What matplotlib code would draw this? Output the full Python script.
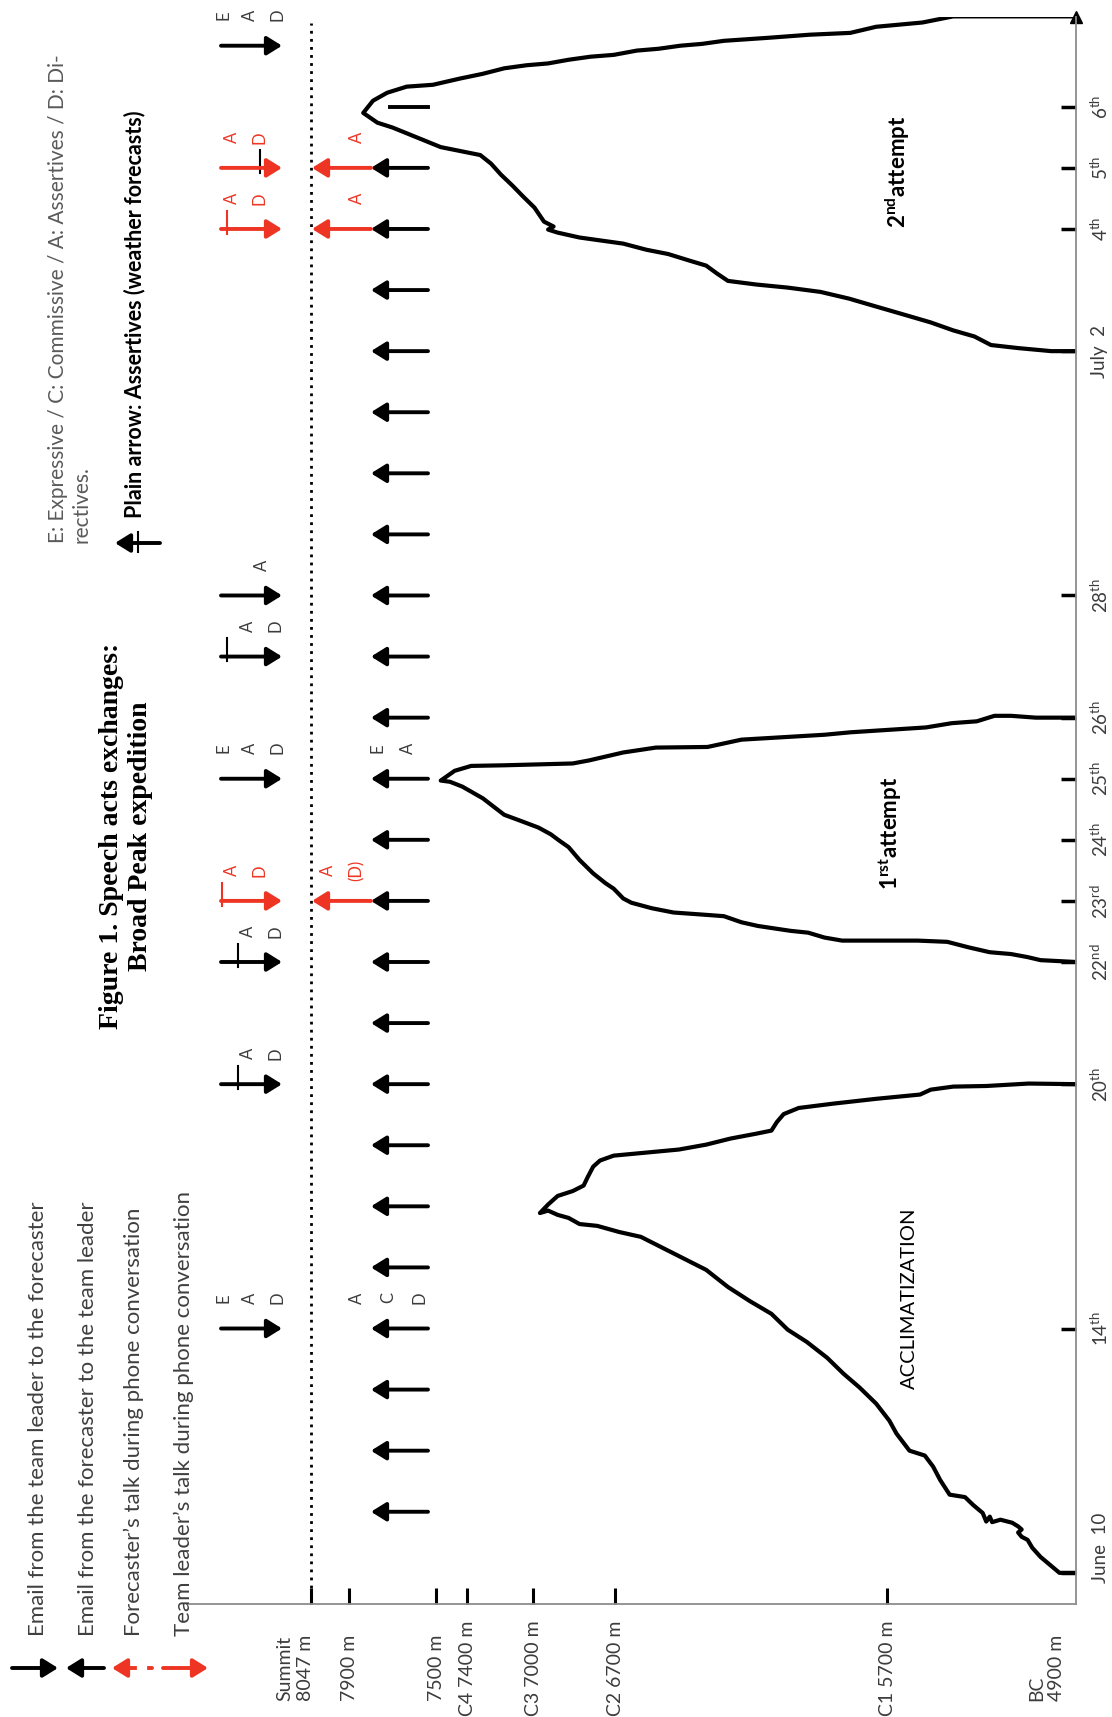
import numpy as np
import matplotlib
matplotlib.use('Agg')
import matplotlib.pyplot as plt
from matplotlib.ticker import NullLocator
from matplotlib.transforms import blended_transform_factory, offset_copy

plt.rcParams['font.family'] = ['Lato', 'DejaVu Sans']
plt.rcParams['mathtext.fontset'] = 'custom'
plt.rcParams['mathtext.rm'] = 'Lato'
plt.rcParams['mathtext.bf'] = 'Lato:bold'

# --- data -----------------------------------------------------------------
# altitude axis (m)
ALT_TICKS = [8047, 7900, 7500, 7400, 7000, 6700, 5700, 4900]
ALT_LABELS = ['Summit\n8047 m', '7900 m', '7500 m', 'C4 7400 m', 'C3 7000 m',
              'C2 6700 m', 'C1 5700 m', 'BC\n4900 m']

# time axis: day slots of the hand drawn axis (0 = June 10)
DAY_TICKS = [0, 4, 8, 10, 11, 12, 13, 14, 16, 20, 22, 23, 24]
DAY_LABELS = ['June  10', r'14$^{\mathrm{th}}$', r'20$^{\mathrm{th}}$', r'22$^{\mathrm{nd}}$',
              r'23$^{\mathrm{rd}}$', r'24$^{\mathrm{th}}$', r'25$^{\mathrm{th}}$', r'26$^{\mathrm{th}}$',
              r'28$^{\mathrm{th}}$', 'July  2', r'4$^{\mathrm{th}}$', r'5$^{\mathrm{th}}$', r'6$^{\mathrm{th}}$']

# acclimatization climb
ACCL_DAY = [0.00, 0.00, 0.13, 0.26, 0.41, 0.54, 0.59, 0.66, 0.71, 0.76, 0.82, 0.87, 0.83, 0.92,
            0.84, 0.98, 1.11, 1.24, 1.28, 1.52, 1.74, 1.92, 2.00, 2.28, 2.49, 2.77, 3.03, 3.26,
            3.52, 3.78, 3.98, 4.24, 4.45, 4.68, 4.96, 5.14, 5.32, 5.50, 5.58, 5.68, 5.71, 5.81,
            5.86, 5.93, 5.89, 6.03, 6.17, 6.25, 6.34, 6.48, 6.65, 6.75, 6.83, 6.88, 6.93, 7.01,
            7.11, 7.19, 7.24, 7.38, 7.51, 7.61, 7.68, 7.76, 7.83, 7.91, 7.96, 7.97, 8.01, 8.00]
ACCL_ALT = [4900, 4970, 5010, 5050, 5085, 5105, 5130, 5145, 5130, 5145, 5170, 5220, 5255, 5265,
            5280, 5295, 5335, 5370, 5435, 5475, 5505, 5540, 5605, 5660, 5690, 5740, 5800, 5860,
            5920, 5995, 6065, 6125, 6205, 6285, 6365, 6445, 6525, 6605, 6685, 6765, 6830, 6870,
            6910, 6945, 6975, 6945, 6910, 6855, 6815, 6800, 6780, 6755, 6705, 6585, 6465, 6365,
            6275, 6180, 6125, 6105, 6080, 6025, 5900, 5740, 5560, 5515, 5420, 5280, 5100, 4900]

# 1st summit attempt
ATT1_DAY = [10.00, 10.03, 10.08, 10.13, 10.16, 10.24, 10.33, 10.35, 10.35, 10.40, 10.48, 10.51,
            10.59, 10.65, 10.75, 10.77, 10.81, 10.88, 10.97, 11.04, 11.20, 11.29, 11.45, 11.67,
            11.88, 11.99, 12.09, 12.20, 12.31, 12.41, 12.68, 12.87, 12.95, 12.97, 13.13, 13.21,
            13.22, 13.25, 13.30, 13.43, 13.51, 13.52, 13.64, 13.72, 13.76, 13.84, 13.91, 13.94,
            14.03, 14.03, 14.00, 14.00]
ATT1_ALT = [4900, 5050, 5105, 5175, 5265, 5355, 5445, 5570, 5865, 5930, 5990, 6055,
            6175, 6235, 6300, 6360, 6485, 6565, 6640, 6670, 6705, 6735, 6780, 6830,
            6870, 6905, 6935, 6980, 7075, 7175, 7305, 7415, 7455, 7485, 7440, 7375,
            7175, 6855, 6795, 6670, 6550, 6360, 6235, 5930, 5835, 5535, 5425, 5320,
            5245, 5175, 5070, 4900]

# 2nd summit attempt
ATT2_DAY = [20.00, 20.00, 20.05, 20.10, 20.24, 20.34, 20.47, 20.60, 20.73, 20.86, 20.97, 21.04,
            21.09, 21.15, 21.27, 21.40, 21.48, 21.59, 21.66, 21.76, 21.81, 21.86, 21.94, 21.99,
            22.04, 22.12, 22.35, 22.53, 22.71, 22.89, 23.07, 23.21, 23.34, 23.66, 23.74, 23.90,
            24.10, 24.23, 24.33, 24.36, 24.46, 24.54, 24.63, 24.68, 24.71, 24.77, 24.82, 24.85,
            24.92, 24.95, 25.00, 25.03, 25.08, 25.13, 25.18, 25.21, 25.31, 25.38, 25.48, 25.48]
ATT2_ALT = [4900, 5005, 5145, 5260, 5330, 5420, 5515, 5630, 5740, 5840, 5945, 6065,
            6180, 6285, 6325, 6365, 6425, 6505, 6585, 6670, 6750, 6830, 6910, 6945,
            6925, 6960, 6995, 7060, 7125, 7195, 7255, 7320, 7485, 7700, 7770, 7835,
            7790, 7725, 7635, 7515, 7425, 7305, 7175, 7040, 6945, 6870, 6790, 6705,
            6620, 6540, 6460, 6380, 6300, 6135, 5985, 5835, 5740, 5550, 5420, 4900]

# emails / talk from the team leader (red = during phone conversation)
LEADER_DAYS = [4, 8, 10, 11, 13, 15, 16, 22, 23, 25]
LEADER_ACTS = [['E', 'A', 'D'], ['A', 'D'], ['A', 'D'], ['A', 'D'], ['E', 'A', 'D'],
               ['A', 'D'], ['A'], ['A', 'D'], ['A', 'D'], ['E', 'A', 'D']]
LEADER_PHONE = [False, False, False, True, False, False, False, True, True, False]

# emails from the forecaster (plain arrows)
FORECAST_DAYS = [1, 2, 3, 4, 5, 6, 7, 8, 9, 10, 11, 12, 13, 14, 15, 16, 17, 18, 19, 20, 21, 22, 23]
FORECAST_ACT_DAYS = [4, 13]
FORECAST_ACTS = [['A', 'C', 'D'], ['E', 'A']]

# forecaster talk during phone conversation
PHONE_DAYS = [11, 22, 23]
PHONE_ACTS = [['A', '(D)'], ['A'], ['A']]

# --- layout ---------------------------------------------------------------
W, H = 1112, 1717
AX_L, AX_R, AX_T, AX_B = 187, 1076, 17, 1604
RED = '#ee3524'
GREY = '#3c3c3c'

fig = plt.figure(figsize=(W / 100, H / 100), dpi=100)
ax = fig.add_axes([AX_L / W, 1 - AX_B / H, (AX_R - AX_L) / W, (AX_B - AX_T) / H])

# hand drawn altitude scale (piecewise linear)
SCALE_ALT = [4900, 5700, 6700, 7000, 7400, 7500, 7900, 8047, 8600]
SCALE_POS = [0, 189, 461, 543, 609, 640, 727, 765, 908]
ax.set_xscale('function', functions=(lambda a: np.interp(a, SCALE_ALT, SCALE_POS),
                                     lambda p: np.interp(p, SCALE_POS, SCALE_ALT)))
ax.set_xlim(8527, 4900)
ax.set_ylim(-0.51, 25.47)


def fx(px):
    # pixel column -> axes fraction
    return (px - AX_L) / (AX_R - AX_L)


bt = blended_transform_factory(ax.transAxes, ax.transData)

# spines and ticks
for side in ['left', 'top']:
    ax.spines[side].set_visible(False)
for side in ['bottom', 'right']:
    ax.spines[side].set_color('#8c8c8c')
    ax.spines[side].set_linewidth(1.3)
ax.yaxis.tick_right()
ax.set_yticks(DAY_TICKS)
ax.set_yticklabels([])
ax.tick_params(axis='y', direction='in', length=11, width=2.5, color='black',
               right=True, left=False, labelright=False)
ax.set_xticks(ALT_TICKS[:-1])
ax.set_xticklabels([])
ax.tick_params(axis='x', direction='in', length=11.5, width=2.2, color='black')
ax.xaxis.set_minor_locator(NullLocator())
ax.yaxis.set_minor_locator(NullLocator())
ax.plot([1], [1], marker='^', ms=9, color='black', transform=ax.transAxes, clip_on=False)

# date labels
for day, lab in zip(DAY_TICKS, DAY_LABELS):
    dy = 25 if day == 0 else 0
    tr = offset_copy(bt, fig=fig, x=24, y=dy, units='dots')
    ax.text(1.0, day, lab, transform=tr, rotation=90, ha='center', va='center',
            fontsize=13.5, color=GREY, clip_on=False)

# altitude labels
xt = blended_transform_factory(ax.transData, ax.transAxes)
for alt, lab in zip(ALT_TICKS, ALT_LABELS):
    dx = {8047: -16, 4900: -29}.get(alt, 0)
    tr = offset_copy(xt, fig=fig, x=dx, y=-64, units='dots')
    ax.text(alt, 0, lab, transform=tr, rotation=90, ha='center', va='center',
            multialignment='left', fontsize=14, color=GREY, clip_on=False)

# summit line
ax.axvline(8047, ymax=0.996, color='black', lw=2, linestyle=(0, (1, 1.9)))

# altitude profiles
for days, alts in [(ACCL_DAY, ACCL_ALT), (ATT1_DAY, ATT1_ALT), (ATT2_DAY, ATT2_ALT)]:
    ax.plot(alts, days, color='black', lw=3, solid_joinstyle='round', solid_capstyle='round')

ax.text(fx(909), 4.5, 'ACCLIMATIZATION', transform=bt, rotation=90, ha='center', va='center',
        fontsize=14.5, color='black')
ax.text(fx(890), 12.1, r'1$^{\mathbf{rst}}$attempt', transform=bt, rotation=90, ha='center',
        va='center', fontsize=16, fontweight='bold')
ax.text(fx(898), 22.94, r'2$^{\mathbf{nd}}$attempt', transform=bt, rotation=90, ha='center',
        va='center', fontsize=16, fontweight='bold')


def arrow(day, tail, head, color):
    ax.annotate('', xy=(fx(head), day), xytext=(fx(tail), day), xycoords=bt, textcoords=bt,
                arrowprops=dict(arrowstyle='-|>,head_length=0.45,head_width=0.28', color=color,
                                lw=2.8, mutation_scale=20, shrinkA=0, shrinkB=0))


def letters(day, px0, step, acts, color):
    for i, ch in enumerate(acts):
        ax.text(fx(px0 + i * step), day + 0.5, ch, transform=bt, rotation=90, ha='center',
                va='center', fontsize=12, color=color)


# team leader -> forecaster
STROKES = {8: (238, 'black'), 10: (238, 'black'), 11: (222, RED), 15: (227, 'black'),
           22: (227, RED), 23: (260, 'black')}
for day, acts, phone in zip(LEADER_DAYS, LEADER_ACTS, LEADER_PHONE):
    col = RED if phone else 'black'
    arrow(day, 221, 282, col)
    if phone:
        letters(day, 232, 27, acts, RED)
    else:
        letters(day, {3: 223, 2: 248, 1: 262}[len(acts)], 27, acts, GREY)
    if day in STROKES:
        px, sc = STROKES[day]
        ax.plot([fx(px), fx(px)], [day - 0.08, day + 0.3], transform=bt, color=sc, lw=1.5)

# forecaster -> team leader
for day in FORECAST_DAYS:
    arrow(day, 428, 371, 'black')
ax.plot([fx(390), fx(428)], [24, 24], transform=bt, color='black', lw=2.8)
for day, acts in zip(FORECAST_ACT_DAYS, FORECAST_ACTS):
    letters(day, 357 if len(acts) == 3 else 377, 31, acts, GREY)

# forecaster talk during phone calls
for day, acts in zip(PHONE_DAYS, PHONE_ACTS):
    arrow(day, 371, 312, RED)
    letters(day, 357 - 29 * (len(acts) - 1), 29, acts, RED)

# --- texts outside the plot -----------------------------------------------
fig.text(126 / W, 1 - 643 / H, 'Figure 1. Speech acts exchanges:\nBroad Peak expedition',
         rotation=90, ha='center', va='top', multialignment='center',
         family='Liberation Serif', fontweight='bold', fontsize=20)
fig.text(70 / W, 1 - 543 / H, 'E: Expressive / C: Commissive / A: Assertives / D: Di-\nrectives.',
         rotation=90, ha='center', va='bottom', multialignment='left', fontsize=15,
         color='#5a5a5a', linespacing=1.25)
fig.text(135 / W, 1 - 518 / H, 'Plain arrow: Assertives (weather forecasts)', rotation=90,
         ha='center', va='bottom', fontsize=15.5, fontweight='bold')


def fig_arrow(y, tail, head, color):
    ax.annotate('', xy=(head, H - y), xytext=(tail, H - y), xycoords='figure pixels',
                textcoords='figure pixels', annotation_clip=False,
                arrowprops=dict(arrowstyle='-|>,head_length=0.45,head_width=0.28', color=color,
                                lw=2.8, mutation_scale=20, shrinkA=0, shrinkB=0))


fig_arrow(543, 160, 115, 'black')
fig.lines.append(plt.Line2D([138 / W, 138 / W], [1 - 552 / H, 1 - 532 / H],
                            transform=fig.transFigure, color='black', lw=1.5))

# legend
LEGEND = ['Email from the team leader to the forecaster',
          'Email from the forecaster to the team leader',
          'Forecaster\u2019s talk during phone conversation',
          'Team leader\u2019s talk during phone conversation']
fig_arrow(1668, 12, 58, 'black')
fig_arrow(1668, 104, 66, 'black')
fig_arrow(1668, 152, 112, RED)
fig_arrow(1668, 163, 208, RED)
# small break in the shaft of the third legend arrow
fig.lines.append(plt.Line2D([140 / W, 144 / W], [1 - 1668 / H, 1 - 1668 / H],
                            transform=fig.transFigure, color='white', lw=4.5, zorder=5))
for x, txt in zip([38, 88, 134, 184], LEGEND):
    fig.text(x / W, 1 - 1636 / H, txt, rotation=90, ha='center', va='bottom', fontsize=16,
             color='#3f3f3f')

fig.savefig('out.png', dpi=100)
